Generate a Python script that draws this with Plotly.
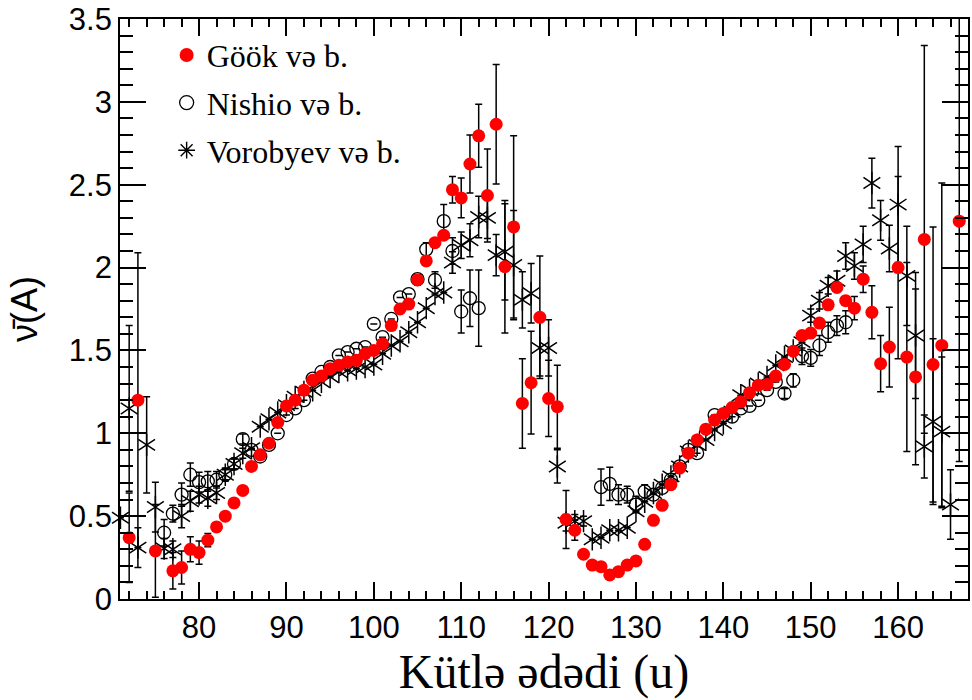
import plotly.graph_objects as go

# ---------------- data ----------------
gook_mass = [72, 73, 75, 77, 78, 79, 80, 81, 82, 83, 84, 85, 86, 87, 88, 89, 90, 91, 92, 93, 94,
             95, 96, 97, 98, 99, 100, 101, 102, 103, 104, 105, 106, 107, 108, 109, 110, 111, 112,
             113, 114, 115, 116, 117, 118, 119, 120, 121, 122, 123, 124, 125, 126, 127, 128, 129,
             130, 131, 132, 133, 134, 135, 136, 137, 138, 139, 140, 141, 142, 143, 144, 145, 146,
             147, 148, 149, 150, 151, 152, 153, 154, 155, 156, 157, 158, 159, 160, 161, 162, 163,
             164, 165, 167]
gook_nu = [0.37, 1.20, 0.29, 0.17, 0.19, 0.30, 0.28, 0.355, 0.435, 0.50, 0.58, 0.655, 0.80, 0.87,
           0.94, 1.065, 1.165, 1.20, 1.26, 1.32, 1.345, 1.39, 1.41, 1.43, 1.44, 1.48, 1.50, 1.54,
           1.65, 1.75, 1.78, 1.925, 2.04, 2.15, 2.195, 2.47, 2.42, 2.625, 2.795, 2.435, 2.865,
           2.005, 2.245, 1.18, 1.305, 1.70, 1.21, 1.16, 0.48, 0.415, 0.27, 0.205, 0.195, 0.145,
           0.165, 0.205, 0.23, 0.33, 0.475, 0.565, 0.69, 0.79, 0.88, 0.96, 1.025, 1.08, 1.12,
           1.155, 1.19, 1.245, 1.29, 1.295, 1.345, 1.415, 1.495, 1.59, 1.605, 1.665, 1.775, 1.88,
           1.80, 1.755, 1.93, 1.73, 1.42, 1.52, 2.00, 1.46, 1.34, 2.17, 1.415, 1.53, 2.28]
gook_err = [0.27, 0.89, 0.28, 0.11, 0.10, 0.075, 0.07, 0.04, 0.0, 0.0, 0.0, 0.0, 0.0, 0.0,
            0.0, 0.0, 0.0, 0.0, 0.0, 0.0, 0.0, 0.0, 0.0, 0.0, 0.0, 0.0, 0.0, 0.0,
            0.0, 0.0, 0.0, 0.03, 0.0, 0.0, 0.0, 0.08, 0.12, 0.175, 0.19, 0.28, 0.36,
            0.40, 0.55, 0.27, 0.31, 0.37, 0.23, 0.25, 0.175, 0.06, 0.02, 0.0, 0.0, 0.0,
            0.0, 0.0, 0.0, 0.0, 0.0, 0.0, 0.0, 0.0, 0.0, 0.0, 0.0, 0.0, 0.0,
            0.0, 0.0, 0.0, 0.0, 0.0, 0.0, 0.0, 0.0, 0.0, 0.0, 0.0, 0.0, 0.0,
            0.0, 0.07, 0.08, 0.16, 0.17, 0.24, 0.55, 0.57, 0.53, 1.17, 0.83, 0.98, 1.45]

nishio_mass = [76, 77, 78, 79, 80, 81, 82, 83, 84, 85, 86, 87, 88, 89, 90, 91, 92, 93, 94, 95,
               96, 97, 98, 99, 100, 101, 102, 103, 104, 105, 106, 107, 108, 109, 110, 111, 112,
               126, 127, 128, 129, 130, 131, 132, 133, 134, 135, 136, 137, 138, 139, 140, 141,
               142, 143, 144, 145, 146, 147, 148, 149, 150, 151, 152, 153, 154]
nishio_nu = [0.40, 0.515, 0.63, 0.75, 0.705, 0.71, 0.72, 0.75, 0.815, 0.965, 0.90, 0.86, 0.93,
             1.00, 1.11, 1.15, 1.20, 1.33, 1.37, 1.40, 1.47, 1.49, 1.51, 1.52, 1.66, 1.58, 1.69,
             1.82, 1.84, 1.93, 2.11, 1.925, 2.28, 2.10, 1.735, 1.815, 1.755,
             0.675, 0.695, 0.63, 0.63, 0.57, 0.65, 0.63, 0.67, 0.72, 0.80, 0.90, 0.88, 1.00,
             1.11, 1.11, 1.10, 1.15, 1.165, 1.20, 1.26, 1.31, 1.24, 1.32, 1.465, 1.455, 1.53,
             1.61, 1.65, 1.67]
nishio_err = [0.08, 0.05, 0.07, 0.07, 0.06, 0.06, 0.05, 0.04, 0.03, 0.03, 0.0, 0.0, 0.0,
              0.0, 0.0, 0.0, 0.0, 0.0, 0.0, 0.0, 0.0, 0.0, 0.0, 0.0, 0.0, 0.0, 0.0,
              0.0, 0.0, 0.0, 0.04, 0.05, 0.10, 0.08, 0.13, 0.17, 0.23,
              0.11, 0.10, 0.06, 0.05, 0.05, 0.04, 0.0, 0.0, 0.0, 0.0, 0.0, 0.0, 0.0,
              0.0, 0.0, 0.0, 0.0, 0.0, 0.0, 0.0, 0.0, 0.03, 0.04, 0.05, 0.05, 0.06,
              0.06, 0.06, 0.07]

vorob_mass = [71, 72, 73, 74, 75, 76, 77, 78, 79, 80, 81, 82, 83, 84, 85, 86, 87, 88, 89, 90,
              91, 92, 93, 94, 95, 96, 97, 98, 99, 100, 101, 102, 103, 104, 105, 106, 107, 108,
              109, 110, 111, 112, 113, 114, 115, 116, 117, 118, 119, 120, 121, 122, 123, 124,
              125, 126, 127, 128, 129, 130, 131, 132, 133, 134, 135, 136, 137, 138, 139, 140,
              141, 142, 143, 144, 145, 146, 147, 148, 149, 150, 151, 152, 153, 154, 155, 156,
              157, 158, 159, 160, 161, 162, 163, 164, 165, 166]
vorob_nu = [0.49, 1.15, 0.31, 0.93, 0.555, 0.305, 0.30, 0.50, 0.59, 0.63, 0.61, 0.64, 0.75,
            0.815, 0.88, 0.91, 1.04, 1.085, 1.125, 1.17, 1.22, 1.25, 1.26, 1.31, 1.34, 1.37,
            1.38, 1.39, 1.40, 1.415, 1.48, 1.53, 1.555, 1.61, 1.67, 1.755, 1.84, 1.85, 2.03,
            2.135, 2.165, 2.305, 2.30, 2.075, 2.095, 2.015, 1.805, 1.845, 1.515, 1.515, 0.80,
            0.46, 0.47, 0.47, 0.36, 0.37, 0.415, 0.415, 0.43, 0.53, 0.587, 0.64, 0.69, 0.74,
            0.80, 0.89, 0.93, 0.96, 1.02, 1.06, 1.13, 1.23, 1.26, 1.30, 1.34, 1.41, 1.46, 1.50,
            1.55, 1.71, 1.80, 1.89, 1.92, 2.07, 2.01, 2.14, 2.51, 2.285, 2.115, 2.38, 1.95,
            1.59, 0.92, 1.07, 1.01, 0.57]
vorob_err = [0.0, 0.5, 0.12, 0.29, 0.15, 0.06, 0.05, 0.07, 0.06, 0.05, 0.05, 0.04, 0.03,
             0.03, 0.03, 0.0, 0.0, 0.0, 0.0, 0.0, 0.0, 0.0, 0.0, 0.0, 0.0, 0.0,
             0.0, 0.0, 0.0, 0.0, 0.0, 0.0, 0.0, 0.0, 0.0, 0.0, 0.0, 0.0, 0.065,
             0.08, 0.10, 0.125, 0.125, 0.125, 0.29, 0.33, 0.17, 0.18, 0.17, 0.17, 0.10,
             0.05, 0.04, 0.03, 0.0, 0.0, 0.0, 0.0, 0.0, 0.0, 0.0, 0.0, 0.0, 0.0,
             0.0, 0.0, 0.0, 0.0, 0.0, 0.0, 0.0, 0.0, 0.0, 0.0, 0.0, 0.0, 0.0, 0.0,
             0.0, 0.04, 0.05, 0.05, 0.06, 0.08, 0.08, 0.11, 0.15, 0.12, 0.14, 0.35, 0.30,
             0.38, 0.19, 0.50, 0.45, 0.21]

x_ticks = [80, 90, 100, 110, 120, 130, 140, 150, 160]
y_ticks = [0, 0.5, 1, 1.5, 2, 2.5, 3, 3.5]
y_ticklabels = ["0", "0.5", "1", "1.5", "2", "2.5", "3", "3.5"]

names = ["Göök və b.", "Nishio və b.", "Vorobyev və b."]

# ---------------- figure ----------------
err_style = dict(type="data", thickness=1.5, width=3.5, color="black")

fig = go.Figure()

# Vorobyev: six-armed asterisk made of y-up + y-down symbols
for sym in ["y-up-open", "y-down-open"]:
    fig.add_trace(go.Scatter(
        x=vorob_mass, y=vorob_nu, mode="markers", showlegend=False,
        marker=dict(symbol=sym, size=14, color="black", line=dict(color="black", width=1.5)),
        error_y=dict(array=vorob_err, visible=(sym == "y-up-open"), **err_style),
        cliponaxis=False,
    ))

fig.add_trace(go.Scatter(
    x=nishio_mass, y=nishio_nu, mode="markers", showlegend=False,
    marker=dict(symbol="circle-open", size=13, color="black", line=dict(color="black", width=1.3)),
    error_y=dict(array=nishio_err, **err_style),
    cliponaxis=False,
))

fig.add_trace(go.Scatter(
    x=gook_mass, y=gook_nu, mode="markers", showlegend=False,
    marker=dict(symbol="circle", size=13, color="#ff0000", line=dict(width=0)),
    error_y=dict(array=gook_err, **err_style),
    cliponaxis=True,
))

# legend entries
legend_specs = [
    (names[0], dict(symbol="circle", size=14, color="#ff0000", line=dict(width=0))),
    (names[1], dict(symbol="circle-open", size=14, color="black", line=dict(color="black", width=1.3))),
    (names[2], dict(symbol="asterisk-open", size=14, color="black", line=dict(color="black", width=1.4))),
]
for i, (nm, mk) in enumerate(legend_specs):
    fig.add_trace(go.Scatter(x=[None], y=[None], mode="markers", name=nm, marker=mk,
                             legendgroup=f"g{i}", showlegend=True))

axis_common = dict(
    showline=True, linecolor="black", linewidth=1.8, mirror="allticks",
    ticks="inside", tickcolor="black", tickwidth=1.5,
    showgrid=False, zeroline=False,
    tickfont=dict(family="Liberation Sans", size=31, color="black"),
)

fig.update_layout(
    width=972, height=700,
    margin=dict(l=120, r=2, t=19, b=101),
    paper_bgcolor="white", plot_bgcolor="white",
    xaxis=dict(
        range=[70.95, 168.0], tickvals=x_ticks, ticklen=17,
        minor=dict(dtick=2, tick0=0, ticklen=8, ticks="inside", tickcolor="black", tickwidth=1.5),
        title=dict(text="Kütlə ədədi (u)", standoff=8,
                   font=dict(family="Liberation Serif", size=48, color="black")),
        **axis_common,
    ),
    yaxis=dict(
        range=[0, 3.5], tickvals=y_ticks, ticktext=y_ticklabels, ticklen=26,
        minor=dict(dtick=0.1, tick0=0, ticklen=13, ticks="inside", tickcolor="black", tickwidth=1.5),
        title=dict(text="\u03bd\u0304(A)", standoff=20,
                   font=dict(family="Liberation Sans", size=36, color="black")),
        **axis_common,
    ),
    legend=dict(
        x=0.055, y=0.985, xanchor="left", yanchor="top",
        bgcolor="rgba(0,0,0,0)", borderwidth=0,
        font=dict(family="Liberation Serif", size=32, color="black"),
        traceorder="grouped", tracegroupgap=3, itemwidth=30,
    ),
    showlegend=True,
)

fig.write_html("out.html")
